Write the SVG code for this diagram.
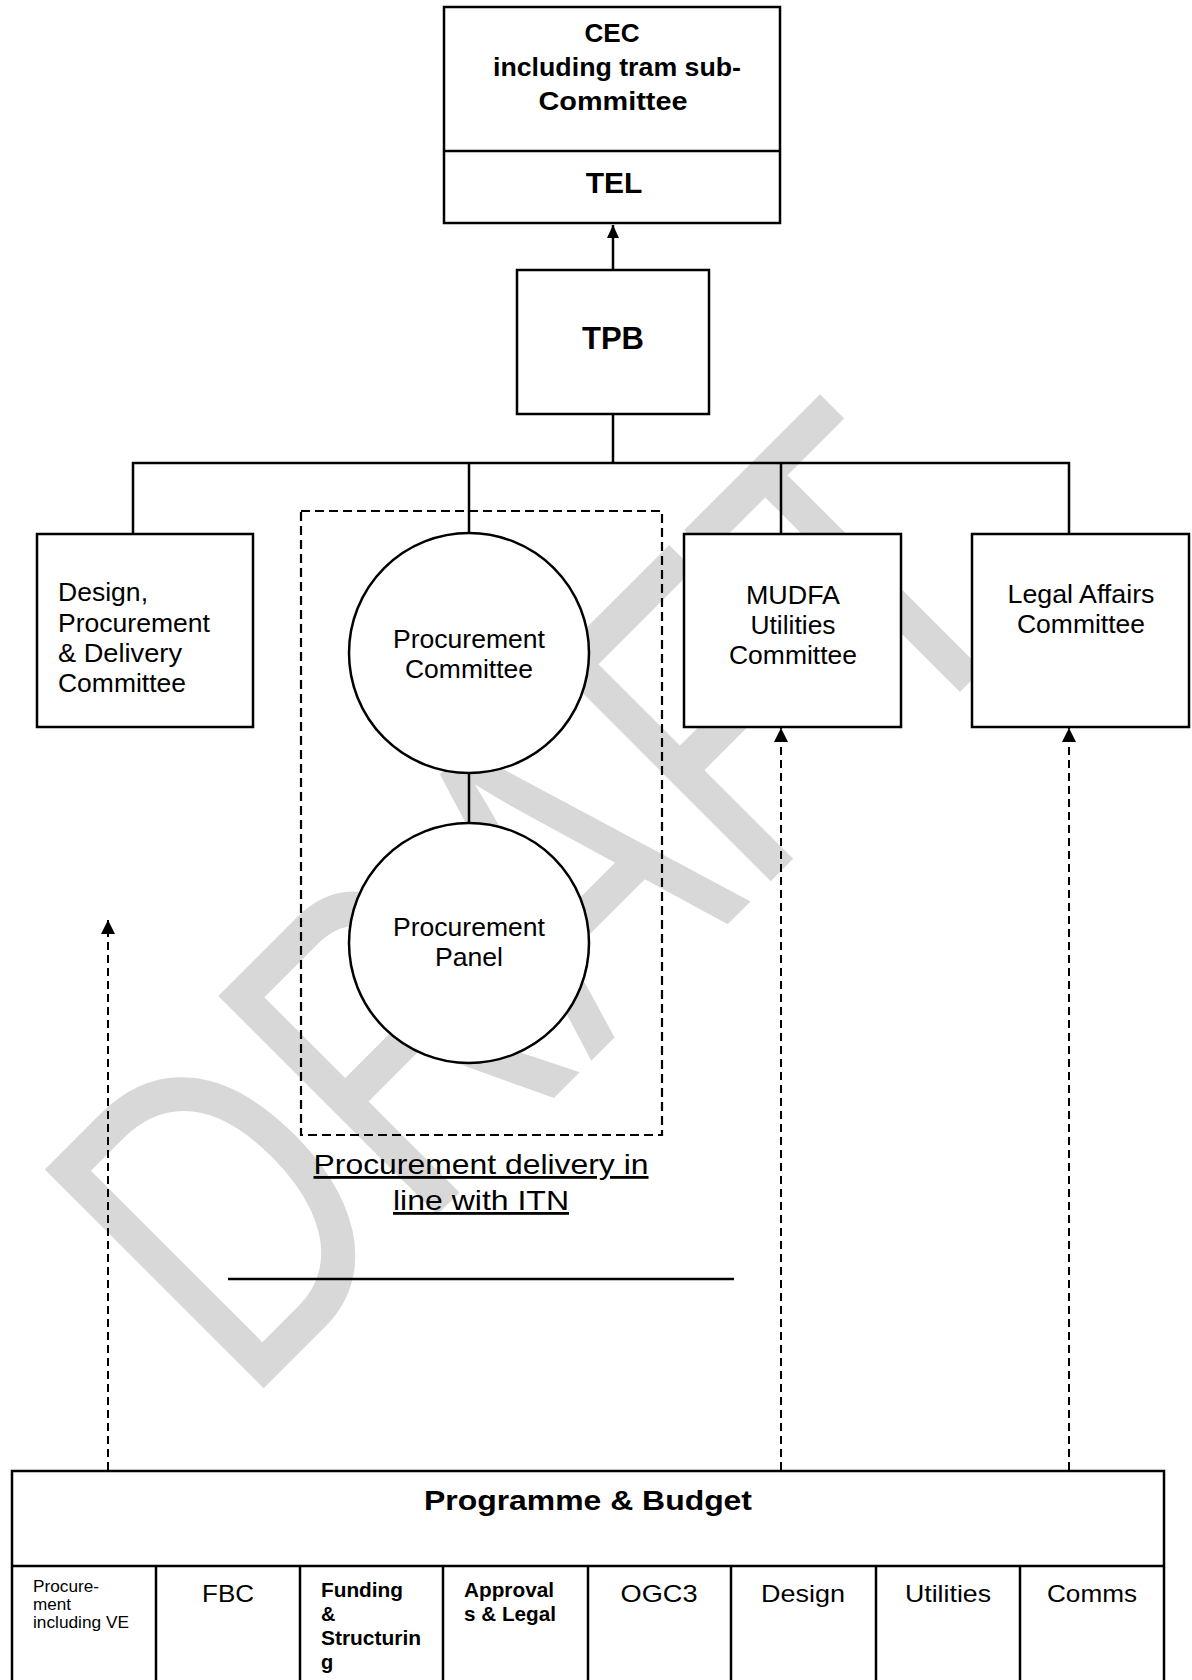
<svg xmlns="http://www.w3.org/2000/svg" width="1192" height="1680" viewBox="0 0 1192 1680">
<style>
.t{font-family:'Liberation Sans',Arial,sans-serif;fill:#000}
.b{font-weight:bold}
.m{text-anchor:middle}
.f25{font-size:25px}
.box{fill:#fff;stroke:#000;stroke-width:2.5}
.ln{fill:none;stroke:#000;stroke-width:2.5}
.dash{fill:none;stroke:#000;stroke-width:2;stroke-dasharray:8 5}
.frame{fill:none;stroke:#000;stroke-width:2.2;stroke-dasharray:9 5}
.wm{font-family:'Liberation Sans',Arial,sans-serif;font-size:450px;fill:#d8d8d8}
</style>
<defs>
<marker id="ah" markerUnits="userSpaceOnUse" viewBox="0 0 14 14" markerWidth="14" markerHeight="14" refX="14" refY="7" orient="auto">
<path d="M0,0 L14,7 L0,14 z" fill="#000"/>
</marker>
<marker id="ahs" markerUnits="userSpaceOnUse" viewBox="0 0 13 12" markerWidth="13" markerHeight="12" refX="13" refY="6" orient="auto">
<path d="M0,0 L13,6 L0,12 z" fill="#000"/>
</marker>
</defs>
<rect x="0" y="0" width="1192" height="1680" fill="#fff"/>
<g id="watermark">
<text class="wm" transform="translate(244 1408) rotate(-45)" x="0" y="0" textLength="1132" lengthAdjust="spacingAndGlyphs">DRAFT</text>
</g>
<g id="connectors">
<line class="ln" x1="613" y1="270" x2="613" y2="225" marker-end="url(#ahs)"/>
<line class="ln" x1="613" y1="414" x2="613" y2="463"/>
<path class="ln" d="M133,534 V463 H1069 V534"/>
<line class="ln" x1="469" y1="463" x2="469" y2="533"/>
<line class="ln" x1="781" y1="463" x2="781" y2="534"/>
<line class="ln" x1="469" y1="773" x2="469" y2="823"/>
<line class="dash" x1="108" y1="1470" x2="108" y2="920" marker-end="url(#ah)"/>
<line class="dash" x1="781" y1="1470" x2="781" y2="728" marker-end="url(#ah)"/>
<line class="dash" x1="1069" y1="1470" x2="1069" y2="728" marker-end="url(#ah)"/>
</g>
<g id="cec-tel">
<rect class="box" x="444" y="7" width="336" height="216"/>
<line class="ln" x1="444" y1="151" x2="780" y2="151"/>
<text class="t b m f25" x="612" y="42" textLength="55" lengthAdjust="spacingAndGlyphs">CEC</text>
<text class="t b m f25" x="617" y="76" textLength="248" lengthAdjust="spacingAndGlyphs">including tram sub-</text>
<text class="t b m f25" x="613" y="110" textLength="149" lengthAdjust="spacingAndGlyphs">Committee</text>
<text class="t b m" x="614" y="193" font-size="30">TEL</text>
</g>
<g id="tpb">
<rect class="box" x="517" y="270" width="192" height="144"/>
<text class="t b m" x="613" y="349" font-size="31">TPB</text>
</g>
<g id="design-procurement-delivery">
<rect class="box" x="37" y="534" width="216" height="193"/>
<text class="t f25" x="58" y="601" textLength="90" lengthAdjust="spacingAndGlyphs">Design,</text>
<text class="t f25" x="58" y="632" textLength="152" lengthAdjust="spacingAndGlyphs">Procurement</text>
<text class="t f25" x="58" y="662" textLength="124" lengthAdjust="spacingAndGlyphs">&amp; Delivery</text>
<text class="t f25" x="58" y="692" textLength="128" lengthAdjust="spacingAndGlyphs">Committee</text>
</g>
<g id="procurement-delivery-frame">
<rect class="frame" x="301" y="511" width="361" height="624"/>
<text class="t m" x="481" y="1174" font-size="28" text-decoration="underline" textLength="335" lengthAdjust="spacingAndGlyphs">Procurement delivery in</text>
<text class="t m" x="481" y="1210" font-size="28" text-decoration="underline" textLength="176" lengthAdjust="spacingAndGlyphs">line with ITN</text>
</g>
<g id="procurement-committee">
<circle class="box" cx="469" cy="653" r="120"/>
<text class="t m f25" x="469" y="648" textLength="152" lengthAdjust="spacingAndGlyphs">Procurement</text>
<text class="t m f25" x="469" y="678" textLength="128" lengthAdjust="spacingAndGlyphs">Committee</text>
</g>
<g id="procurement-panel">
<circle class="box" cx="469" cy="943" r="120"/>
<text class="t m f25" x="469" y="936" textLength="152" lengthAdjust="spacingAndGlyphs">Procurement</text>
<text class="t m f25" x="469" y="966" textLength="68" lengthAdjust="spacingAndGlyphs">Panel</text>
</g>
<g id="mudfa-utilities">
<rect class="box" x="684" y="534" width="217" height="193"/>
<text class="t m f25" x="793" y="604" textLength="94" lengthAdjust="spacingAndGlyphs">MUDFA</text>
<text class="t m f25" x="793" y="634" textLength="85" lengthAdjust="spacingAndGlyphs">Utilities</text>
<text class="t m f25" x="793" y="664" textLength="128" lengthAdjust="spacingAndGlyphs">Committee</text>
</g>
<g id="legal-affairs">
<rect class="box" x="972" y="534" width="217" height="193"/>
<text class="t m f25" x="1081" y="603" textLength="147" lengthAdjust="spacingAndGlyphs">Legal Affairs</text>
<text class="t m f25" x="1081" y="633" textLength="128" lengthAdjust="spacingAndGlyphs">Committee</text>
</g>
<g id="rule-line">
<line class="ln" x1="228" y1="1279" x2="734" y2="1279"/>
</g>
<g id="programme-budget">
<path class="box" d="M12,1682 V1471 H1164 V1682"/>
<line class="ln" x1="12" y1="1566" x2="1164" y2="1566"/>
<text class="t b m" x="588" y="1510" font-size="28" textLength="328" lengthAdjust="spacingAndGlyphs">Programme &amp; Budget</text>
<g id="cell-procurement">
<text class="t" x="33" y="1592" font-size="16" textLength="66" lengthAdjust="spacingAndGlyphs">Procure-</text>
<text class="t" x="33" y="1610" font-size="16" textLength="38" lengthAdjust="spacingAndGlyphs">ment</text>
<text class="t" x="33" y="1628" font-size="16" textLength="96" lengthAdjust="spacingAndGlyphs">including VE</text>
</g>
<g id="cell-fbc">
<line class="ln" x1="156" y1="1566" x2="156" y2="1682"/>
<text class="t m" x="228" y="1602" font-size="24" textLength="52" lengthAdjust="spacingAndGlyphs">FBC</text>
</g>
<g id="cell-funding">
<line class="ln" x1="300" y1="1566" x2="300" y2="1682"/>
<text class="t b" x="321" y="1597" font-size="20" textLength="82" lengthAdjust="spacingAndGlyphs">Funding</text>
<text class="t b" x="321" y="1621" font-size="20">&amp;</text>
<text class="t b" x="321" y="1645" font-size="20" textLength="100" lengthAdjust="spacingAndGlyphs">Structurin</text>
<text class="t b" x="321" y="1669" font-size="20">g</text>
</g>
<g id="cell-approvals">
<line class="ln" x1="443" y1="1566" x2="443" y2="1682"/>
<text class="t b" x="464" y="1597" font-size="20" textLength="90" lengthAdjust="spacingAndGlyphs">Approval</text>
<text class="t b" x="464" y="1621" font-size="20" textLength="92" lengthAdjust="spacingAndGlyphs">s &amp; Legal</text>
</g>
<g id="cell-ogc3">
<line class="ln" x1="588" y1="1566" x2="588" y2="1682"/>
<text class="t m" x="659" y="1602" font-size="24" textLength="77" lengthAdjust="spacingAndGlyphs">OGC3</text>
</g>
<g id="cell-design">
<line class="ln" x1="731" y1="1566" x2="731" y2="1682"/>
<text class="t m" x="803" y="1602" font-size="24" textLength="84" lengthAdjust="spacingAndGlyphs">Design</text>
</g>
<g id="cell-utilities">
<line class="ln" x1="876" y1="1566" x2="876" y2="1682"/>
<text class="t m" x="948" y="1602" font-size="24" textLength="86" lengthAdjust="spacingAndGlyphs">Utilities</text>
</g>
<g id="cell-comms">
<line class="ln" x1="1020" y1="1566" x2="1020" y2="1682"/>
<text class="t m" x="1092" y="1602" font-size="24" textLength="90" lengthAdjust="spacingAndGlyphs">Comms</text>
</g>
</g>
</svg>
